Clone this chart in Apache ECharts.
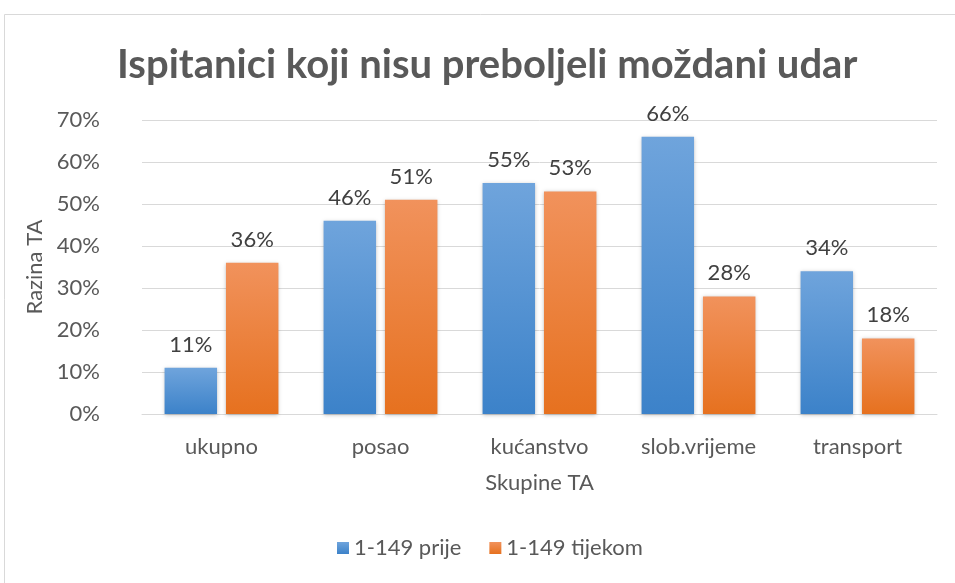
<!DOCTYPE html>
<html>
<head>
<meta charset="utf-8">
<script src="https://cdn.jsdelivr.net/npm/echarts@6/dist/echarts.min.js"></script>
<style>
  html, body { margin: 0; padding: 0; background: #fff; }
  #chart { width: 955px; height: 583px; }
</style>
</head>
<body>
<div id="chart"></div>
<script>
const categories = ['ukupno', 'posao', 'kućanstvo', 'slob.vrijeme', 'transport']
const prije = [11, 46, 55, 66, 34]
const tijekom = [36, 51, 53, 28, 18]
const seriesNames = ['1-149 prije', '1-149 tijekom']

const font = 'Lato, "Open Sans", sans-serif'
const textColor = '#595959'

const grad = (top, bottom) => new echarts.graphic.LinearGradient(0, 0, 0, 1, [
  { offset: 0, color: top },
  { offset: 1, color: bottom },
])

const blue = grad('#6fa4dc', '#3c82c9')
const orange = grad('#f1925c', '#e6711f')

const labelStyle = {
  show: true,
  position: 'top',
  distance: 12,
  formatter: p => p.value + '%',
  color: '#404040',
  fontSize: 22,
  fontFamily: font,
}

const chart = echarts.init(document.getElementById('chart'))
chart.setOption({
  animation: false,
  textStyle: { fontFamily: font },
  graphic: [{
    type: 'rect',
    shape: { x: 4.5, y: 14.5, width: 960, height: 600 },
    style: { fill: 'none', stroke: '#d9d9d9', lineWidth: 1 },
    silent: true,
  }],
  title: {
    text: 'Ispitanici koji nisu preboljeli moždani udar',
    left: 112,
    top: 40,
    textStyle: { color: textColor, fontSize: 40, fontWeight: 'bold', fontFamily: font },
  },
  legend: {
    bottom: 19,
    left: 332,
    itemWidth: 12,
    itemHeight: 12,
    itemGap: 28,
    icon: 'rect',
    textStyle: { color: textColor, fontSize: 22, fontFamily: font },
    data: seriesNames,
  },
  grid: { left: 142, right: 18, top: 120, bottom: 169 },
  xAxis: {
    type: 'category',
    data: categories,
    name: 'Skupine TA',
    nameLocation: 'middle',
    nameGap: 58,
    nameTextStyle: { color: textColor, fontSize: 22 },
    axisLine: { lineStyle: { color: '#d9d9d9' } },
    axisTick: { show: false },
    axisLabel: { color: textColor, fontSize: 22, margin: 22 },
  },
  yAxis: {
    type: 'value',
    min: 0,
    max: 70,
    interval: 10,
    name: 'Razina TA',
    nameLocation: 'middle',
    nameGap: 96,
    nameTextStyle: { color: textColor, fontSize: 22 },
    axisLabel: { color: textColor, fontSize: 22, margin: 42, formatter: '{value}%' },
    splitLine: { lineStyle: { color: '#d9d9d9' } },
  },
  series: [
    {
      name: seriesNames[0],
      type: 'bar',
      data: prije,
      barWidth: '33%',
      barGap: '17%',
      itemStyle: { color: blue, shadowColor: 'rgba(0,0,0,0.25)', shadowBlur: 4, shadowOffsetY: 1 },
      label: labelStyle,
    },
    {
      name: seriesNames[1],
      type: 'bar',
      data: tijekom,
      barWidth: '33%',
      itemStyle: { color: orange, shadowColor: 'rgba(0,0,0,0.25)', shadowBlur: 4, shadowOffsetY: 1 },
      label: labelStyle,
    },
  ],
})
</script>
</body>
</html>
